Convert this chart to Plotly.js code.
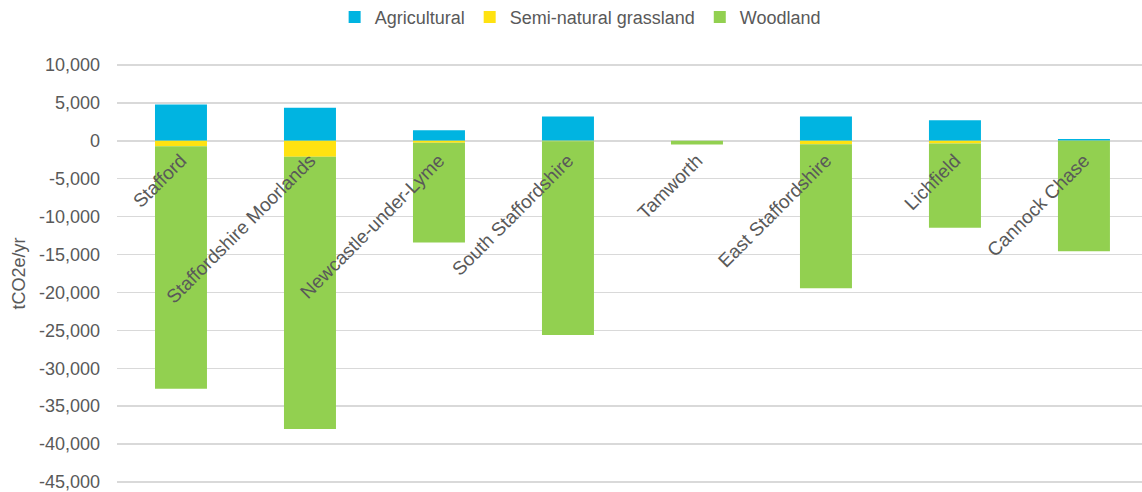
<!DOCTYPE html>
<html>
<head>
<meta charset="utf-8">
<script src="https://cdn.plot.ly/plotly-3.0.1.min.js"></script>
<style>html,body{margin:0;padding:0;background:#fff;}#chart{width:1142px;height:492px;}</style>
</head>
<body>
<div id="chart"></div>
<script>
const categories = ["Stafford", "Staffordshire Moorlands", "Newcastle-under-Lyme", "South Staffordshire", "Tamworth", "East Staffordshire", "Lichfield", "Cannock Chase"];
const agricultural = [4800, 4350, 1400, 3200, 0, 3200, 2700, 250];
const grassland = [-700, -2100, -250, -50, 0, -450, -350, -30];
const woodland = [-32000, -35900, -13150, -25570, -470, -19000, -11100, -14550];
const yTickVals = [10000, 5000, 0, -5000, -10000, -15000, -20000, -25000, -30000, -35000, -40000, -45000];
const yTickText = ["10,000", "5,000", "0", "-5,000", "-10,000", "-15,000", "-20,000", "-25,000", "-30,000", "-35,000", "-40,000", "-45,000"];

const FONT = "'Liberation Sans', Arial, sans-serif";
const TXT = "#595959";
const yMin = -45400, yMax = 10400;

const traces = [
  {type: "bar", name: "Agricultural", x: categories, y: agricultural, marker: {color: "#00B4E1"}},
  {type: "bar", name: "Semi-natural grassland", x: categories, y: grassland, marker: {color: "#FFE211"}},
  {type: "bar", name: "Woodland", x: categories, y: woodland, marker: {color: "#92D050"}}
];

const layout = {
  width: 1142, height: 492,
  margin: {l: 117, r: 0, t: 62, b: 7, autoexpand: false},
  paper_bgcolor: "#fff", plot_bgcolor: "#fff",
  barmode: "relative",
  bargap: 0.597,
  font: {family: FONT, size: 18, color: TXT},
  showlegend: true,
  legend: {orientation: "h", xref: "container", yref: "container",
           x: 0.508, xanchor: "center", y: 0.965, yanchor: "middle",
           font: {family: FONT, size: 18, color: TXT}, traceorder: "normal", itemwidth: 30},
  xaxis: {
    type: "category",
    range: [-0.496, 7.45],
    anchor: "free",
    position: (0 - yMin) / (yMax - yMin),
    showgrid: false, showline: false, zeroline: false, ticks: "",
    tickangle: -45,
    ticklabelstandoff: 4,
    tickfont: {family: FONT, size: 19, color: TXT},
    layer: "above traces"
  },
  yaxis: {
    range: [yMin, yMax],
    tickvals: yTickVals, ticktext: yTickText,
    showgrid: true, gridcolor: "#D9D9D9", gridwidth: 1.5,
    zeroline: true, zerolinecolor: "#D9D9D9", zerolinewidth: 1.5,
    showline: false, ticks: "",
    ticklabelstandoff: 16,
    ticklabeloverflow: "allow",
    tickfont: {family: FONT, size: 18, color: TXT},
    title: {text: "tCO2e/yr", font: {family: FONT, size: 18, color: TXT}, standoff: 8}
  }
};

Plotly.newPlot("chart", traces, layout, {displayModeBar: false, staticPlot: true});
</script>
</body>
</html>
